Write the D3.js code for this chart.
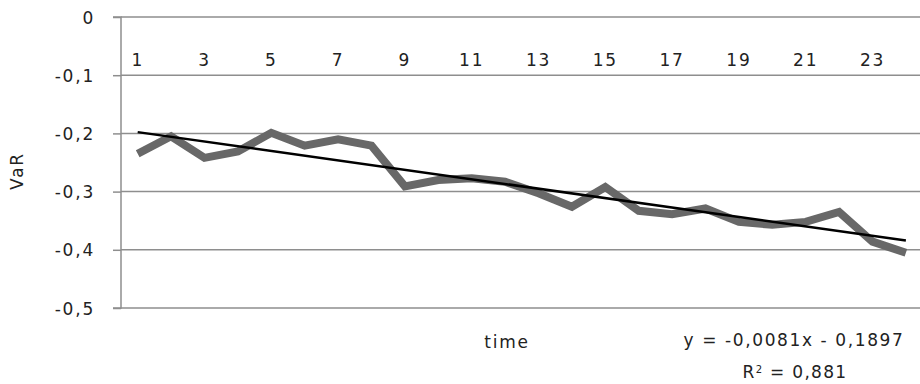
<!DOCTYPE html>
<html><head><meta charset="utf-8">
<script src="https://cdn.jsdelivr.net/npm/d3@7"></script>
<style>
body{margin:0;background:#fff;}
text{font-family:"DejaVu Sans",sans-serif;fill:#222;}
</style></head>
<body><svg id="c" width="920" height="384"></svg>
<script>
const categories = d3.range(1, 25);
const varValues = [-0.235,-0.205,-0.242,-0.231,-0.199,-0.221,-0.21,-0.221,-0.291,-0.28,-0.277,-0.283,-0.303,-0.326,-0.292,-0.333,-0.339,-0.329,-0.352,-0.357,-0.352,-0.335,-0.386,-0.405];
const yTicks = [0,-0.1,-0.2,-0.3,-0.4,-0.5];
const xTickLabels = [1,3,5,7,9,11,13,15,17,19,21,23];
const trendSlope = -0.0081, trendIntercept = -0.1897, trendR2 = 0.881;
const yTitle = "VaR", xTitle = "time";

const svg = d3.select("#c");
const mLeft = 121, mTop = 17, mBottom = 308, band = 33.4;
const x = d3.scaleBand().domain(categories).range([mLeft, mLeft + band*categories.length]).padding(0);
const xc = d => x(d) + x.bandwidth()/2;
const y = d3.scaleLinear().domain([-0.5, 0]).range([mBottom, mTop]);

// gridlines
svg.append("g").selectAll("line").data(yTicks).join("line")
  .attr("x1", mLeft).attr("x2", 920).attr("y1", d=>y(d)).attr("y2", d=>y(d))
  .attr("stroke", "#8e8e8e").attr("stroke-width", 1.5);

// y axis
const yAxis = d3.axisLeft(y).tickValues(yTicks).tickSize(8).tickPadding(18)
  .tickFormat(d => d === 0 ? "0" : d3.format(".1f")(d).replace("−","-").replace(".", ","));
const gy = svg.append("g").attr("transform", `translate(${mLeft},0)`).call(yAxis);
gy.select(".domain").attr("stroke", "#8e8e8e").attr("stroke-width", 1.5).attr("d", `M-8,${mTop}H0V${mBottom}H-8`);
gy.selectAll(".tick line").attr("stroke", "#8e8e8e").attr("stroke-width", 1.5);
gy.selectAll(".tick text").attr("font-size", 17).attr("letter-spacing", "1.8px").attr("fill", "#222").attr("font-family", "DejaVu Sans").attr("dy", "0.36em");

// x axis labels (axis crosses at 0)
const xAxis = d3.axisBottom(x).tickValues(xTickLabels).tickSize(0).tickPadding(37);
const gx = svg.append("g").attr("transform", `translate(0,${y(0)})`).call(xAxis);
gx.select(".domain").remove();
gx.selectAll(".tick text").attr("font-size", 17).attr("letter-spacing", "1.8px").attr("fill", "#222").attr("font-family", "DejaVu Sans");

// data line
const line = d3.line().x((d,i)=>xc(categories[i])).y(d=>y(d));
svg.append("path").datum(varValues).attr("d", line).attr("fill","none")
  .attr("stroke", "#686868").attr("stroke-width", 8).attr("stroke-linejoin","miter");

// trend line
const tr = [categories[0], categories[categories.length-1]];
svg.append("path").datum(tr).attr("d", d3.line().x(d=>xc(d)).y(d=>y(trendSlope*d + trendIntercept)))
  .attr("stroke", "#000").attr("stroke-width", 2.5).attr("fill","none");

// titles
svg.append("text").attr("transform", "translate(23,171) rotate(-90)").attr("text-anchor","middle")
  .attr("font-size", 17).attr("letter-spacing","1.8px").text(yTitle);
svg.append("text").attr("x", 507).attr("y", 348).attr("text-anchor","middle")
  .attr("font-size", 17).attr("letter-spacing","1.8px").text(xTitle);

const eq = `y = ${d3.format(".4f")(trendSlope).replace("−","-").replace(".",",")}x - ${d3.format(".4f")(-trendIntercept).replace(".",",")}`;
svg.append("text").attr("x", 794).attr("y", 346).attr("text-anchor","middle")
  .attr("font-size", 17).attr("letter-spacing","1.6px").text(eq);
const r2 = svg.append("text").attr("x", 795).attr("y", 378).attr("text-anchor","middle")
  .attr("font-size", 17).attr("letter-spacing","1.3px");
r2.append("tspan").text("R");
r2.append("tspan").attr("baseline-shift","super").attr("font-size", 10).text("2");
r2.append("tspan").text(" = " + d3.format(".3f")(trendR2).replace(".",","));
</script></body></html>
